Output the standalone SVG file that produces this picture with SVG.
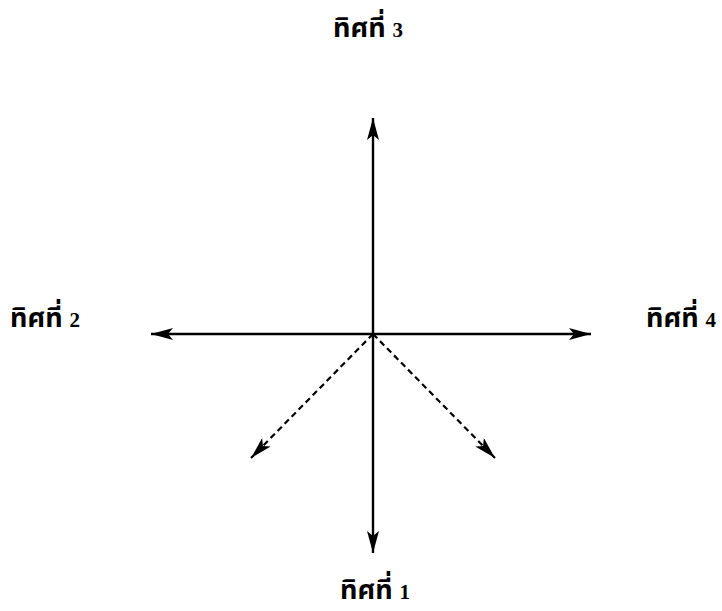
<svg xmlns="http://www.w3.org/2000/svg" width="722" height="611" viewBox="0 0 722 611">
<style>
.lbl{font-family:"Noto Sans","Noto Sans Thai","DejaVu Sans",sans-serif;font-weight:bold;font-size:27px;fill:#000}
.num{font-family:"Liberation Serif",serif;font-weight:bold;font-size:21px}
.solid{stroke:#000;stroke-width:2.4;fill:none}
.dash{stroke:#000;stroke-width:2.2;fill:none;stroke-dasharray:6 4}
</style>
<defs>
<marker id="ah" viewBox="0 0 22 12" refX="22" refY="6" markerWidth="22" markerHeight="12" markerUnits="userSpaceOnUse" orient="auto">
<path d="M0,0 L22,6 L0,12 L5,6 Z" fill="#000"/>
</marker>
</defs>
<rect width="722" height="611" fill="#fff"/>
<g id="connectors">
<line class="solid" x1="373" y1="334" x2="373" y2="118" marker-end="url(#ah)"/>
<line class="solid" x1="373" y1="334" x2="373" y2="553" marker-end="url(#ah)"/>
<line class="solid" x1="373" y1="334" x2="151" y2="334" marker-end="url(#ah)"/>
<line class="solid" x1="373" y1="334" x2="591" y2="334" marker-end="url(#ah)"/>
<line class="dash" x1="373" y1="334" x2="251" y2="458" marker-end="url(#ah)"/>
<line class="dash" x1="373" y1="334" x2="495" y2="458" marker-end="url(#ah)"/>
</g>
<g id="n3"><text class="lbl" x="333" y="37">ทิศที่ <tspan class="num">3</tspan></text></g>
<g id="n2"><text class="lbl" x="10" y="327">ทิศที่ <tspan class="num">2</tspan></text></g>
<g id="n4"><text class="lbl" x="646" y="327">ทิศที่ <tspan class="num">4</tspan></text></g>
<g id="n1"><text class="lbl" x="340" y="599">ทิศที่ <tspan class="num">1</tspan></text></g>
</svg>
